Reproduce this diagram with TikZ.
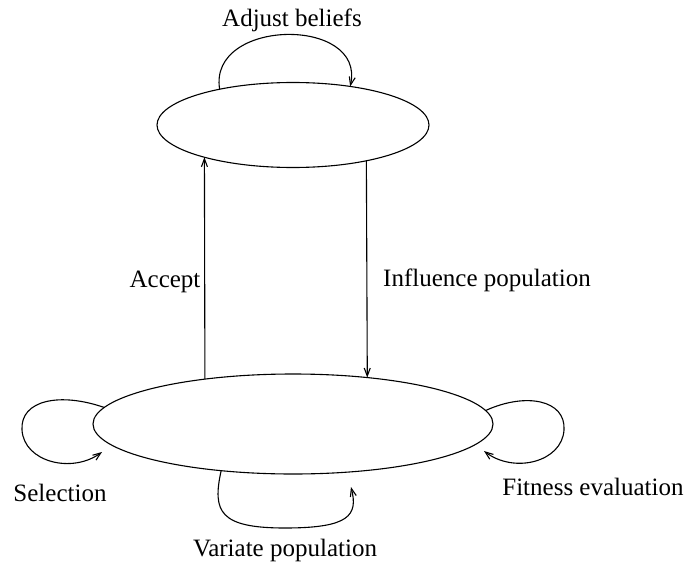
\documentclass[tikz,border=0pt]{standalone}
\usepackage{fontspec}
\setmainfont{Liberation Serif}
\usetikzlibrary{shapes.geometric,arrows.meta}
\begin{document}
\begin{tikzpicture}[x=1pt,y=-1pt,
  every node/.style={font=\fontsize{25}{30}\selectfont},
  st/.style={draw,ellipse,line width=1.1pt,inner sep=0pt,outer sep=0pt},
  conn/.style={line width=1.1pt,-{Straight Barb[length=8pt,width=6pt]}},
  lbl/.style={inner sep=0pt}]
\useasboundingbox (0,0) rectangle (687,567);
\node[st,minimum width=272pt,minimum height=85pt] (top) at (293,125) {};
\node[st,minimum width=400pt,minimum height=100pt] (bot) at (293,424) {};
\coordinate (selEnd) at (102,452);
\coordinate (fitEnd) at (484,451);
\coordinate (varEnd) at (351,487);
\draw[conn] (bot.153) -- (top.200);
\draw[conn] (top.334) -- (bot.32);
\draw[conn] (top.154) .. controls (208,18) and (366,16) .. (top.34);
\draw[conn] (bot.175.6) .. controls (60,392) and (20,400) .. (22,430) .. controls (24,462) and (72,474) .. (selEnd);
\draw[conn] (bot.4.4) .. controls (526,392) and (566,400) .. (564,430) .. controls (562,462) and (514,474) .. (fitEnd);
\draw[conn] (bot.213) .. controls (212,512) and (220,528) .. (285,528) .. controls (350,528) and (358,515) .. (varEnd);
\node[lbl] (adj) at (292,20) {Adjust beliefs};
\node[lbl] (acc) at (165,282) {Accept};
\node[lbl] (inf) at (487,280) {Influence population};
\node[lbl] (sel) at (60,493) {Selection};
\node[lbl] (fit) at (593,487) {Fitness evaluation};
\node[lbl] (var) at (285,550) {Variate population};
\end{tikzpicture}
\end{document}
